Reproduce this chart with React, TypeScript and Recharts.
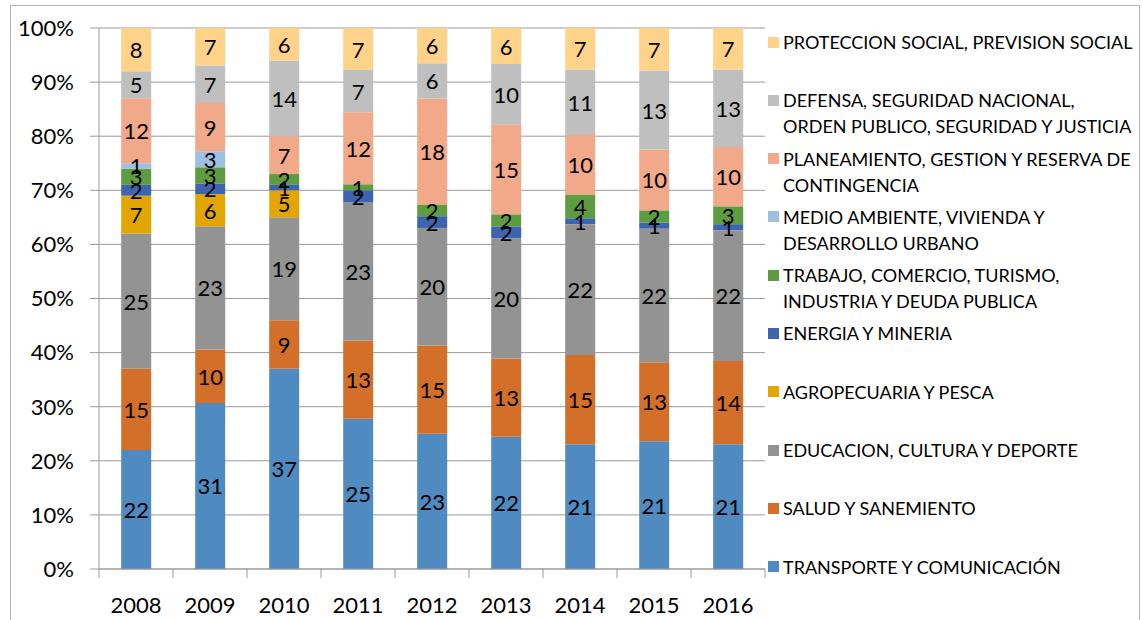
import { BarChart, Bar, XAxis, YAxis, CartesianGrid, LabelList } from 'recharts';

const years = ['2008', '2009', '2010', '2011', '2012', '2013', '2014', '2015', '2016'];

const transporte = [22, 31, 37, 25, 23, 22, 21, 21, 21];
const salud = [15, 10, 9, 13, 15, 13, 15, 13, 14];
const educacion = [25, 23, 19, 23, 20, 20, 22, 22, 22];
const agropecuaria = [7, 6, 5, 0, 0, 0, 0, 0, 0];
const energia = [2, 2, 1, 2, 2, 2, 1, 1, 1];
const trabajo = [3, 3, 2, 1, 2, 2, 4, 2, 3];
const medioAmbiente = [1, 3, 0, 0, 0, 0, 0, 0, 0];
const planeamiento = [12, 9, 7, 12, 18, 15, 10, 10, 10];
const defensa = [5, 7, 14, 7, 6, 10, 11, 13, 13];
const proteccion = [8, 7, 6, 7, 6, 6, 7, 7, 7];

const yTicks = [0, 0.1, 0.2, 0.3, 0.4, 0.5, 0.6, 0.7, 0.8, 0.9, 1];

// bottom of the stack first
const series = [
  { key: 'transporte', name: 'TRANSPORTE Y COMUNICACIÓN', color: '#4F8AC0', values: transporte },
  { key: 'salud', name: 'SALUD Y SANEMIENTO', color: '#D46F2A', values: salud },
  { key: 'educacion', name: 'EDUCACION, CULTURA Y DEPORTE', color: '#939393', values: educacion },
  { key: 'agropecuaria', name: 'AGROPECUARIA Y PESCA', color: '#E3A600', values: agropecuaria },
  { key: 'energia', name: 'ENERGIA Y MINERIA', color: '#3D64AE', values: energia },
  { key: 'trabajo', name: 'TRABAJO, COMERCIO, TURISMO,\nINDUSTRIA Y DEUDA PUBLICA', color: '#5E9C40', values: trabajo },
  { key: 'medio', name: 'MEDIO AMBIENTE, VIVIENDA Y\nDESARROLLO URBANO', color: '#9CBFE3', values: medioAmbiente },
  { key: 'planeamiento', name: 'PLANEAMIENTO, GESTION Y RESERVA DE\nCONTINGENCIA', color: '#F2A98A', values: planeamiento },
  { key: 'defensa', name: 'DEFENSA, SEGURIDAD NACIONAL,\nORDEN PUBLICO, SEGURIDAD Y JUSTICIA', color: '#BFBFBF', values: defensa },
  { key: 'proteccion', name: 'PROTECCION SOCIAL, PREVISION SOCIAL', color: '#FFD28A', values: proteccion },
];

const data = years.map((year, i) => {
  const row: Record<string, string | number> = { year };
  series.forEach((s) => {
    row[s.key] = s.values[i];
  });
  return row;
});

const FONT = 'Lato, "Open Sans", sans-serif';
const lineColor = '#9A9A9A';

function YearTick(props: any) {
  const { x, y, payload, index, visibleTicksCount } = props;
  const half = payload && payload.offset ? payload.offset : 37;
  return (
    <g>
      <line x1={x - half} x2={x - half} y1={y} y2={y + 9} stroke={lineColor} />
      {index === visibleTicksCount - 1 && (
        <line x1={x + half} x2={x + half} y1={y} y2={y + 9} stroke={lineColor} />
      )}
      <text x={x} y={y + 44} textAnchor="middle" fontSize={22} fill="#000" fontFamily={FONT}>
        {payload.value}
      </text>
    </g>
  );
}

function SegmentLabel(props: any) {
  const { x, y, width, height, value } = props;
  if (!value) return null;
  return (
    <text
      x={x + width / 2}
      y={y + height / 2}
      textAnchor="middle"
      dominantBaseline="central"
      fontSize={22}
      fill="#000"
      fontFamily={FONT}
    >
      {value}
    </text>
  );
}

export default function App() {
  const legendItems = [...series].reverse();
  return (
    <div
      style={{
        position: 'absolute',
        left: 0,
        top: 0,
        width: 1142,
        height: 620,
        overflow: 'hidden',
        background: '#fff',
        fontFamily: FONT,
      }}
    >
      <div
        style={{
          position: 'absolute',
          left: 10,
          top: 5,
          width: 1128,
          height: 640,
          border: '1px solid #B4B4B4',
        }}
      />
      <div style={{ position: 'absolute', left: 0, top: 0 }}>
        <BarChart
          width={1142}
          height={620}
          data={data}
          stackOffset="expand"
          barCategoryGap="30%"
          margin={{ top: 28, right: 377, bottom: 0, left: 0 }}
        >
          <CartesianGrid vertical={false} stroke={lineColor} />
          <XAxis
            dataKey="year"
            height={51}
            tickLine={false}
            tickSize={0}
            tickMargin={0}
            axisLine={{ stroke: lineColor }}
            tick={<YearTick />}
            interval={0}
          />
          <YAxis
            type="number"
            domain={[0, 1]}
            ticks={yTicks}
            width={99}
            tickSize={9}
            tickMargin={16}
            tickLine={{ stroke: lineColor }}
            axisLine={{ stroke: lineColor }}
            tickFormatter={(v: number) => `${Math.round(v * 100)}%`}
            tick={{ fontSize: 22, fill: '#000', fontFamily: FONT }}
          />
          {series.map((s) => (
            <Bar
              key={s.key}
              dataKey={s.key}
              name={s.name}
              stackId="a"
              fill={s.color}
              isAnimationActive={false}
            >
              <LabelList dataKey={s.key} content={<SegmentLabel />} />
            </Bar>
          ))}
        </BarChart>
      </div>
      <div style={{ position: 'absolute', left: 768, top: 29, width: 374 }}>
        {legendItems.map((s) => (
          <div key={s.key} style={{ height: 58.3, display: 'flex', alignItems: 'flex-start' }}>
            <div
              style={{
                width: 11,
                height: 11,
                background: s.color,
                marginTop: 7.5,
                marginRight: 4,
                flex: 'none',
              }}
            />
            <div
              style={{
                fontSize: 18,
                lineHeight: '26px',
                color: '#000',
                whiteSpace: 'pre',
              }}
            >
              {s.name}
            </div>
          </div>
        ))}
      </div>
    </div>
  );
}
